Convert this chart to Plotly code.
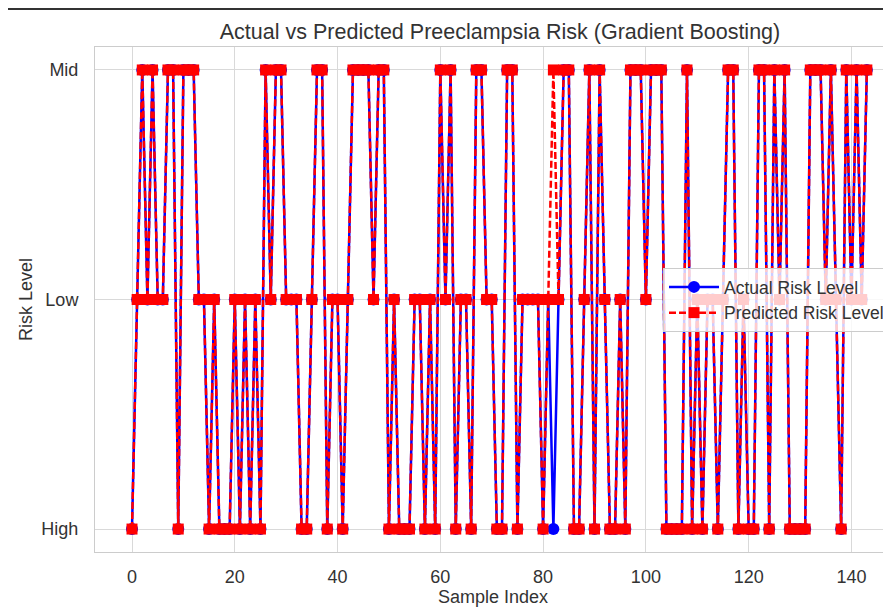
import plotly.graph_objects as go

# Risk levels (index 0..143)
actual_risk = [
    "High", "Low", "Mid", "Low", "Mid", "Low", "Low", "Mid", "Mid", "High", "Mid", "Mid",
    "Mid", "Low", "Low", "High", "Low", "High", "High", "High", "Low", "High", "Low", "High",
    "Low", "High", "Mid", "Low", "Mid", "Mid", "Low", "Low", "Low", "High", "High", "Low",
    "Mid", "Mid", "High", "Low", "Low", "High", "Low", "Mid", "Mid", "Mid", "Mid", "Low",
    "Mid", "Mid", "High", "Low", "High", "High", "High", "Low", "Low", "High", "Low", "High",
    "Mid", "Low", "Mid", "High", "Low", "Low", "High", "Mid", "Mid", "Low", "Low", "High",
    "High", "Mid", "Mid", "High", "Low", "Low", "Low", "Low", "High", "Low", "High", "Low",
    "Mid", "Mid", "High", "High", "Low", "Mid", "High", "Mid", "Low", "High", "High", "Low",
    "High", "Mid", "Mid", "Mid", "Low", "Mid", "Mid", "Mid", "High", "High", "High", "High",
    "Mid", "High", "Low", "High", "Low", "Low", "High", "Low", "Mid", "Mid", "High", "Low",
    "High", "High", "Mid", "Mid", "High", "Mid", "Low", "Mid", "High", "High", "High", "High",
    "Mid", "Mid", "Mid", "Low", "Mid", "Low", "High", "Mid", "Low", "Mid", "Low", "Mid",
]
predicted_risk = [
    "High", "Low", "Mid", "Low", "Mid", "Low", "Low", "Mid", "Mid", "High", "Mid", "Mid",
    "Mid", "Low", "Low", "High", "Low", "High", "High", "High", "Low", "High", "Low", "High",
    "Low", "High", "Mid", "Low", "Mid", "Mid", "Low", "Low", "Low", "High", "High", "Low",
    "Mid", "Mid", "High", "Low", "Low", "High", "Low", "Mid", "Mid", "Mid", "Mid", "Low",
    "Mid", "Mid", "High", "Low", "High", "High", "High", "Low", "Low", "High", "Low", "High",
    "Mid", "Low", "Mid", "High", "Low", "Low", "High", "Mid", "Mid", "Low", "Low", "High",
    "High", "Mid", "Mid", "High", "Low", "Low", "Low", "Low", "High", "Low", "Mid", "Low",
    "Mid", "Mid", "High", "High", "Low", "Mid", "High", "Mid", "Low", "High", "High", "Low",
    "High", "Mid", "Mid", "Mid", "Low", "Mid", "Mid", "Mid", "High", "High", "High", "High",
    "Mid", "High", "Low", "High", "Low", "Low", "High", "Low", "Mid", "Mid", "High", "Low",
    "High", "High", "Mid", "Mid", "High", "Mid", "Low", "Mid", "High", "High", "High", "High",
    "Mid", "Mid", "Mid", "Low", "Mid", "Low", "High", "Mid", "Low", "Mid", "Low", "Mid",
]
level_order = ["High", "Low", "Mid"]
x_ticks = [0, 20, 40, 60, 80, 100, 120, 140]
sample_index = list(range(len(actual_risk)))

FONT = "Liberation Sans, Arial, sans-serif"
TXT = "#333333"
GRID = "#d9d9d9"

# page body has an 8px margin, so the figure is shifted by 8px right/down
W, H = 883, 602
ML, MT, MB = 87, 39, 58
PH = H - MT - MB

fig = go.Figure()
fig.add_trace(go.Scatter(
    x=sample_index, y=actual_risk, mode="lines+markers", name="Actual Risk Level",
    line=dict(color="#0000ff", width=2.5),
    marker=dict(symbol="circle", size=12, color="#0000ff"),
))
fig.add_trace(go.Scatter(
    x=sample_index, y=predicted_risk, mode="lines+markers", name="Predicted Risk Level",
    line=dict(color="#ff0000", width=2.5, dash="7px,3px"),
    marker=dict(symbol="square", size=11, color="#ff0000"),
))

fig.update_layout(
    width=W, height=H,
    margin=dict(l=ML, r=0, t=MT, b=MB, autoexpand=False),
    paper_bgcolor="white", plot_bgcolor="white",
    font=dict(family=FONT, size=18, color=TXT),
    title=dict(text="Actual vs Predicted Preeclampsia Risk (Gradient Boosting)",
               x=(500 - 8) / W, xanchor="center", xref="container",
               y=1 - (31 - 8) / H, yanchor="middle",
               font=dict(size=21.5, color=TXT)),
    showlegend=True,
    legend=dict(x=(663 - 95) / (W - ML), y=(552 - 268) / PH, xanchor="left", yanchor="top",
                bgcolor="rgba(255,255,255,0.8)", bordercolor="#cccccc", borderwidth=1,
                font=dict(size=17.5, color=TXT), tracegroupgap=0, itemwidth=50),
    xaxis=dict(range=[-7.2, 147.7], tickvals=x_ticks, showgrid=True, gridcolor=GRID,
               gridwidth=1, zeroline=False, showline=True, linecolor="#cccccc",
               linewidth=1, mirror=True, ticks="", ticklabelstandoff=8, automargin=False,
               title=dict(text="Sample Index", font=dict(size=18, color=TXT), standoff=4),
               tickfont=dict(size=18, color=TXT)),
    yaxis=dict(type="category", categoryorder="array", categoryarray=level_order,
               range=[-0.1, 2.1], showgrid=True, gridcolor=GRID, gridwidth=1,
               zeroline=False, showline=True, linecolor="#cccccc", linewidth=1,
               ticks="", ticklabelstandoff=12, automargin=False,
               title=dict(text="Risk Level", font=dict(size=18, color=TXT), standoff=4),
               tickfont=dict(size=18, color=TXT)),
)

# notebook separator line at the top of the screenshot
fig.add_shape(type="line", xref="paper", yref="paper", x0=-ML / (W - ML), x1=1.0,
              y0=1 + (MT - 1) / PH, y1=1 + (MT - 1) / PH,
              line=dict(color="#333333", width=2))

fig.write_html("out.html")
